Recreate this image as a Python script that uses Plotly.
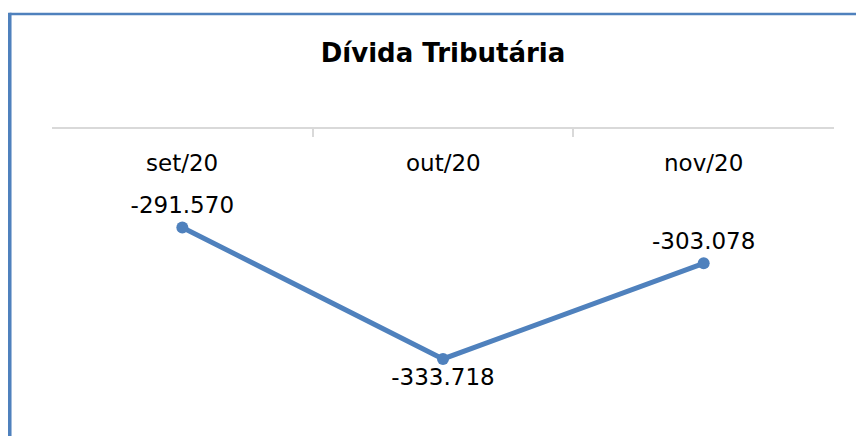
import plotly.graph_objects as go

categories = ["set/20", "out/20", "nov/20"]
values = [-291570, -333718, -303078]
label_positions = ["top center", "bottom center", "top center"]

FONT = "DejaVu Sans"
BLUE = "#4F81BD"

fig = go.Figure()
fig.add_trace(go.Scatter(
    x=categories, y=values,
    mode="lines+markers+text",
    line=dict(color=BLUE, width=5),
    marker=dict(color=BLUE, size=12),
    texttemplate="%{y:,.0f}",
    textposition=label_positions,
    textfont=dict(family=FONT, size=23, color="#000000"),
    cliponaxis=False,
    showlegend=False,
))

# category labels below the top axis line
for c in categories:
    fig.add_annotation(x=c, xref="x", y=0.8893, yref="paper", text=c,
                       showarrow=False, yanchor="middle",
                       font=dict(family=FONT, size=23, color="#000000"))

# chart border (top and left edges visible)
fig.add_shape(type="line", xref="paper", yref="paper",
              x0=-0.0543, x1=1.0285, y0=1.3746, y1=1.3746,
              line=dict(color=BLUE, width=2.5))
fig.add_shape(type="line", xref="paper", yref="paper",
              x0=-0.0543, x1=-0.0543, y0=-0.05, y1=1.379,
              line=dict(color=BLUE, width=4))

fig.update_layout(
    width=848, height=428,
    margin=dict(l=44, r=22, t=121, b=0),
    paper_bgcolor="white", plot_bgcolor="white",
    separators=",.",
    title=dict(text="<b>Dívida Tributária</b>", x=0.513, xanchor="center",
               y=0.8949, yanchor="middle", yref="container",
               font=dict(family=FONT, size=26, color="#000000")),
    xaxis=dict(side="top", type="category", range=[-0.5, 2.5],
               showticklabels=False, showgrid=False, zeroline=False,
               showline=True, linecolor="#D9D9D9", linewidth=2,
               ticks="inside", tickson="boundaries", ticklen=8,
               tickcolor="#D9D9D9", tickwidth=2),
    yaxis=dict(range=[-358430, -260000], visible=False, showgrid=False,
               zeroline=False),
)

fig.write_html("out.html", config={"displayModeBar": False})
